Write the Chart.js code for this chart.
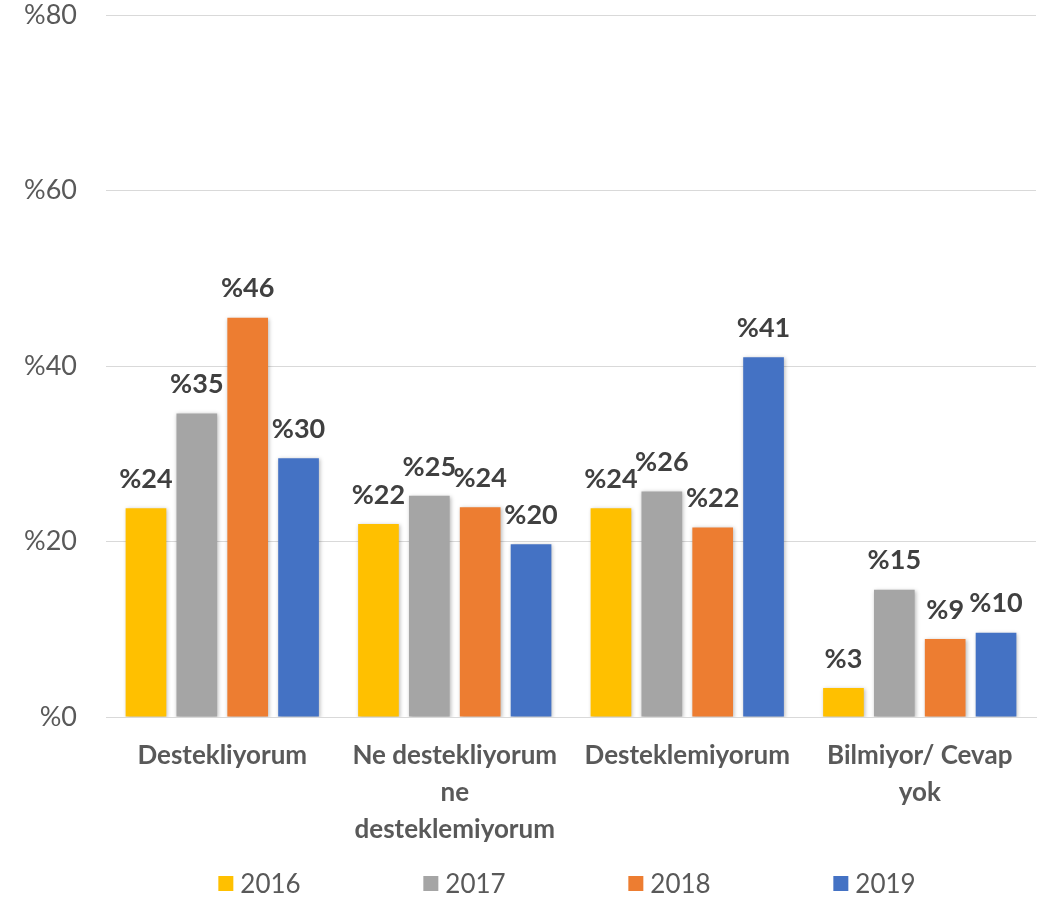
<!DOCTYPE html>
<html>
<head>
<meta charset="utf-8">
<script src="https://cdn.jsdelivr.net/npm/chart.js@4/dist/chart.umd.min.js"></script>
<style>
  html, body { margin: 0; padding: 0; background: #fff; }
  #wrap { width: 1064px; height: 900px; position: relative; }
</style>
</head>
<body>
<div id="wrap"><canvas id="c" width="1064" height="900"></canvas></div>
<script>
const categories = [
  "Destekliyorum",
  ["Ne destekliyorum", "ne", "desteklemiyorum"],
  "Desteklemiyorum",
  ["Bilmiyor/ Cevap", "yok"]
];
const seriesNames = ["2016", "2017", "2018", "2019"];
const values2016 = [23.8, 22.0, 23.8, 3.3];
const values2017 = [34.6, 25.2, 25.7, 14.5];
const values2018 = [45.5, 23.9, 21.6, 8.9];
const values2019 = [29.5, 19.7, 41.0, 9.6];
const yTicks = [0, 20, 40, 60, 80];
const colors = ["#FFC000", "#A5A5A5", "#ED7D31", "#4472C4"];

const FONT = "Lato, 'Open Sans', sans-serif";
const allValues = [values2016, values2017, values2018, values2019];

const shadowAndLabels = {
  id: 'shadowAndLabels',
  beforeDatasetsDraw(chart) {
    const ctx = chart.ctx;
    ctx.save();
    ctx.shadowColor = 'rgba(0,0,0,0.28)';
    ctx.shadowBlur = 4;
    ctx.shadowOffsetX = 1;
    ctx.shadowOffsetY = 1;
  },
  afterDatasetsDraw(chart) {
    const ctx = chart.ctx;
    ctx.restore();
    ctx.save();
    ctx.font = "bold 27px " + FONT;
    ctx.fillStyle = "#404040";
    ctx.textAlign = "center";
    ctx.textBaseline = "middle";
    chart.data.datasets.forEach((ds, di) => {
      const meta = chart.getDatasetMeta(di);
      meta.data.forEach((bar, i) => {
        ctx.fillText("%" + Math.round(ds.data[i]), bar.x, bar.y - 29);
      });
    });
    ctx.restore();
  }
};

const bottomLegend = {
  id: 'bottomLegend',
  afterDraw(chart) {
    const ctx = chart.ctx;
    const ca = chart.chartArea;
    const slot = 205;
    const cx = (ca.left + ca.right) / 2 - 4;
    const y = 884;
    ctx.save();
    ctx.font = "26px " + FONT;
    ctx.textBaseline = "middle";
    ctx.textAlign = "left";
    const n = chart.data.datasets.length;
    chart.data.datasets.forEach((ds, i) => {
      const label = ds.label;
      const tw = ctx.measureText(label).width;
      const w = 15 + 7 + tw;
      const center = cx + (i - (n - 1) / 2) * slot;
      const x0 = center - w / 2;
      ctx.fillStyle = ds.backgroundColor;
      ctx.fillRect(x0, y - 8, 15, 15);
      ctx.fillStyle = "#595959";
      ctx.fillText(label, x0 + 22, y + 1);
    });
    ctx.restore();
  }
};

new Chart(document.getElementById('c'), {
  type: 'bar',
  data: {
    labels: categories,
    datasets: allValues.map((vals, i) => ({
      label: seriesNames[i],
      data: vals,
      backgroundColor: colors[i],
      borderWidth: 0,
      categoryPercentage: 0.875,
      barPercentage: 0.8
    }))
  },
  options: {
    responsive: false,
    animation: false,
    devicePixelRatio: 1,
    layout: { padding: { top: 15, right: 28, bottom: 50, left: 0 } },
    plugins: {
      legend: { display: false },
      tooltip: { enabled: false }
    },
    scales: {
      x: {
        grid: { display: false, drawTicks: false },
        border: { display: true, color: "#d9d9d9", width: 1 },
        ticks: {
          color: "#595959",
          font: { family: FONT, size: 26, weight: 'bold', lineHeight: 1.42 },
          padding: 20,
          maxRotation: 0,
          autoSkip: false
        },
        afterFit(scale) { scale.height = 133; }
      },
      y: {
        min: 0, max: 80,
        afterBuildTicks(scale) { scale.ticks = yTicks.map(v => ({ value: v })); },
        grid: { color: "#d9d9d9", lineWidth: 1, drawTicks: true, tickLength: 29, tickColor: "rgba(0,0,0,0)" },
        border: { display: false },
        ticks: {
          color: "#595959",
          font: { family: FONT, size: 27, lineHeight: 1.1 },
          padding: 0,
          callback: v => "%" + v
        },
        afterFit(scale) { scale.width = 106; }
      }
    }
  },
  plugins: [shadowAndLabels, bottomLegend]
});
</script>
</body>
</html>
